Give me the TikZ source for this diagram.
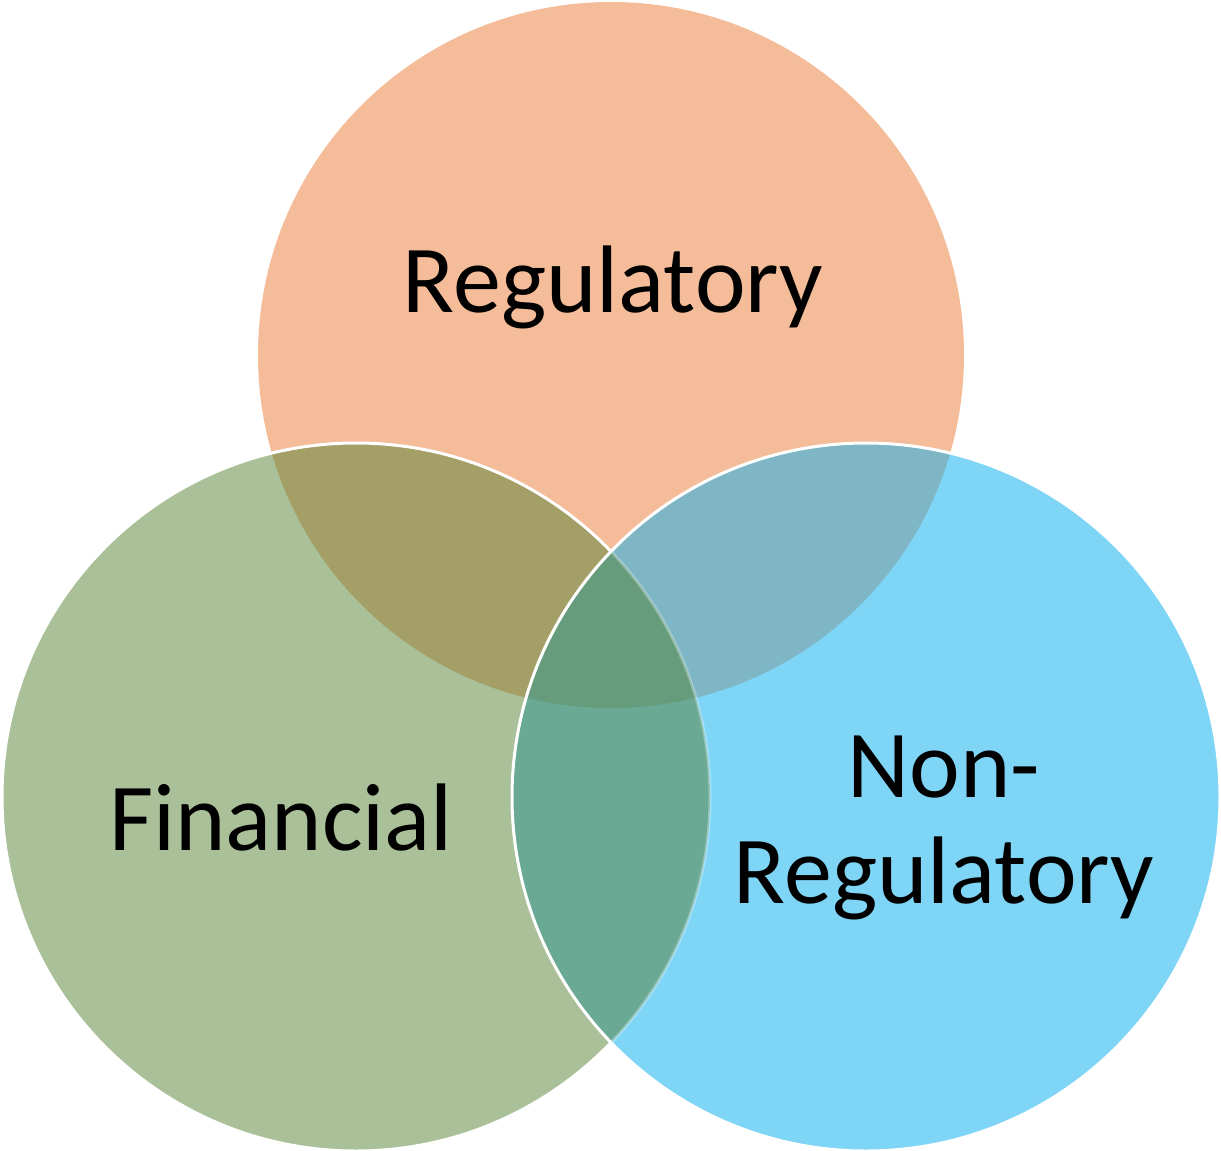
\documentclass[tikz,border=0pt]{standalone}
\usepackage{fontspec}
\setmainfont{Carlito}
\definecolor{cT}{HTML}{F4BC98}
\definecolor{cL}{HTML}{AAC098}
\definecolor{cR}{HTML}{7FD5F6}
\definecolor{cTL}{HTML}{A39F66}
\definecolor{cTR}{HTML}{7EB6C5}
\definecolor{cLR}{HTML}{6AAA95}
\definecolor{cC}{HTML}{669C7B}
\begin{document}
\begin{tikzpicture}[x=1pt,y=-1pt,
  lbl/.style={font=\fontsize{96}{106}\selectfont, align=center, inner sep=0pt, anchor=base},
  edge/.style={draw=white, line width=3pt}]
\useasboundingbox (0,0) rectangle (1221,1151);
\def\T{(611,355) circle[radius=353pt]}
\def\L{(356,797) circle[radius=354pt]}
\def\R{(866,797) circle[radius=354pt]}
\fill[cT] \T;
\fill[cL] \L;
\fill[cR] \R;
\begin{scope}\clip \T; \fill[cTL] \L; \end{scope}
\begin{scope}\clip \T; \fill[cTR] \R; \end{scope}
\begin{scope}\clip \L; \fill[cLR] \R; \end{scope}
\begin{scope}\clip \T; \clip \L; \fill[cC] \R; \end{scope}
% left outline (faint inside right circle)
\begin{scope}\clip \R; \draw[white, opacity=0.3, line width=3pt] \L; \end{scope}
\begin{scope}[even odd rule]
  \clip (-10,-10) rectangle (1231,1161) (866,797) circle[radius=354pt];
  \draw[edge] \L;
\end{scope}
\draw[edge] \R;
\node[lbl] (reg) at (613,312) {Regulatory};
\node[lbl] (fin) at (281,850) {Financial};
\node[lbl] (non) at (944,797) {Non-};
\node[lbl] (nreg) at (944,903) {Regulatory};
\end{tikzpicture}
\end{document}
